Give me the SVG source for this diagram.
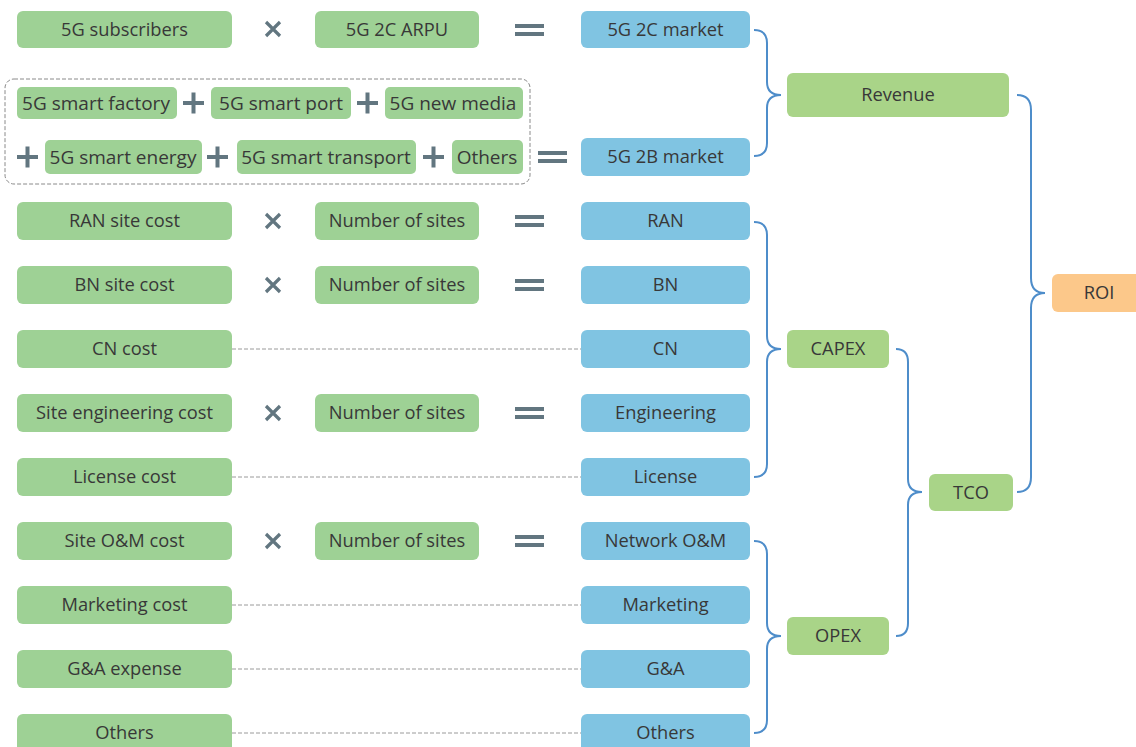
<svg xmlns="http://www.w3.org/2000/svg" width="1136" height="747" viewBox="0 0 1136 747">
<defs>
<style>
text{font-family:"Open Sans","Liberation Sans",sans-serif;font-size:18.3px;fill:#383838;text-anchor:middle}
.big{font-size:19px}
.g{fill:#9ed195}
.r{fill:#a9d488}
.b{fill:#80c4e2}
.o{fill:#fcc88a}
.op{fill:#627680}
.x{stroke:#627680;stroke-width:3.2;stroke-linecap:butt}
.dash{stroke:#9a9a9a;stroke-width:1;stroke-dasharray:4,2;fill:none}
.brace{stroke:#4e8dca;stroke-width:2;fill:none}
</style>
</defs>
<rect width="1136" height="747" fill="#ffffff"/>

<g id="dashed-group">
<rect x="5" y="79" width="525" height="105" rx="9" fill="none" stroke="#8a8a8a" stroke-width="1" stroke-dasharray="4,2"/>
</g>

<g id="connectors">
<line class="dash" x1="232" y1="349" x2="581" y2="349"/>
<line class="dash" x1="232" y1="477" x2="581" y2="477"/>
<line class="dash" x1="232" y1="605" x2="581" y2="605"/>
<line class="dash" x1="232" y1="669" x2="581" y2="669"/>
<line class="dash" x1="232" y1="733" x2="581" y2="733"/>
<path class="brace" d="M754,30 Q767,30 767,43 V82 Q767,95 781,95 Q767,95 767,108 V143 Q767,156 754,156"/>
<path class="brace" d="M754,222 Q767,222 767,235 V336 Q767,349 781,349 Q767,349 767,362 V464 Q767,477 754,477"/>
<path class="brace" d="M754,541 Q767,541 767,554 V623 Q767,636 781,636 Q767,636 767,649 V720 Q767,733 754,733"/>
<path class="brace" d="M896,349 Q908,349 908,362 V479 Q908,492 922,492 Q908,492 908,505 V623 Q908,636 896,636"/>
<path class="brace" d="M1017,95 Q1031,95 1031,110 V278 Q1031,293 1045,293 Q1031,293 1031,308 V477 Q1031,492 1017,492"/>
</g>

<g id="operators">
<path class="x" d="M266,22 L280,36 M280,22 L266,36"/>
<rect class="op" x="515" y="24" width="29" height="4"/><rect class="op" x="515" y="32" width="29" height="4"/>
<path class="x" d="M266,214 L280,228 M280,214 L266,228"/>
<rect class="op" x="515" y="215" width="29" height="4"/><rect class="op" x="515" y="223" width="29" height="4"/>
<path class="x" d="M266,278 L280,292 M280,278 L266,292"/>
<rect class="op" x="515" y="279" width="29" height="4"/><rect class="op" x="515" y="287" width="29" height="4"/>
<path class="x" d="M266,406 L280,420 M280,406 L266,420"/>
<rect class="op" x="515" y="407" width="29" height="4"/><rect class="op" x="515" y="415" width="29" height="4"/>
<path class="x" d="M266,534 L280,548 M280,534 L266,548"/>
<rect class="op" x="515" y="535" width="29" height="4"/><rect class="op" x="515" y="543" width="29" height="4"/>
<rect class="op" x="538" y="151" width="29" height="4"/><rect class="op" x="538" y="159" width="29" height="4"/>
<path class="op" d="M183,101 h21 v4 h-21z M191.5,92.5 h4 v21 h-4z"/>
<path class="op" d="M357,101 h21 v4 h-21z M365.5,92.5 h4 v21 h-4z"/>
<path class="op" d="M17,155 h21 v4 h-21z M25.5,146.5 h4 v21 h-4z"/>
<path class="op" d="M207,155 h21 v4 h-21z M215.5,146.5 h4 v21 h-4z"/>
<path class="op" d="M423,155 h21 v4 h-21z M431.5,146.5 h4 v21 h-4z"/>
</g>

<g id="n-5g-subscribers"><rect class="g" x="17" y="11" width="215" height="37" rx="6"/><text x="124.5" y="35.5">5G subscribers</text></g>
<g id="n-5g-2c-arpu"><rect class="g" x="315" y="11" width="164" height="37" rx="6"/><text x="397" y="35.5">5G 2C ARPU</text></g>
<g id="n-5g-2c-market"><rect class="b" x="581" y="11" width="169" height="37" rx="6"/><text x="665.5" y="35.5">5G 2C market</text></g>

<g id="n-smart-factory"><rect class="g" x="17" y="87" width="160" height="32" rx="5"/><text class="big" x="96" y="109.5">5G smart factory</text></g>
<g id="n-smart-port"><rect class="g" x="211" y="87" width="140" height="32" rx="5"/><text class="big" x="281" y="109.5">5G smart port</text></g>
<g id="n-new-media"><rect class="g" x="385" y="87" width="138" height="32" rx="5"/><text class="big" x="453" y="109.5">5G new media</text></g>
<g id="n-smart-energy"><rect class="g" x="45" y="140" width="157" height="34" rx="5"/><text class="big" x="123" y="163.5">5G smart energy</text></g>
<g id="n-smart-transport"><rect class="g" x="237" y="140" width="179" height="34" rx="5"/><text class="big" x="326" y="163.5">5G smart transport</text></g>
<g id="n-others-2b"><rect class="g" x="452" y="140" width="71" height="34" rx="5"/><text class="big" x="487" y="163.5">Others</text></g>
<g id="n-5g-2b-market"><rect class="b" x="581" y="138" width="169" height="38" rx="6"/><text x="665.5" y="163">5G 2B market</text></g>

<g id="n-ran-site-cost"><rect class="g" x="17" y="202" width="215" height="38" rx="6"/><text x="124.5" y="227">RAN site cost</text></g>
<g id="n-sites-ran"><rect class="g" x="315" y="202" width="164" height="38" rx="6"/><text x="397" y="227">Number of sites</text></g>
<g id="n-ran"><rect class="b" x="581" y="202" width="169" height="38" rx="6"/><text x="665.5" y="227">RAN</text></g>

<g id="n-bn-site-cost"><rect class="g" x="17" y="266" width="215" height="38" rx="6"/><text x="124.5" y="291">BN site cost</text></g>
<g id="n-sites-bn"><rect class="g" x="315" y="266" width="164" height="38" rx="6"/><text x="397" y="291">Number of sites</text></g>
<g id="n-bn"><rect class="b" x="581" y="266" width="169" height="38" rx="6"/><text x="665.5" y="291">BN</text></g>

<g id="n-cn-cost"><rect class="g" x="17" y="330" width="215" height="38" rx="6"/><text x="124.5" y="355">CN cost</text></g>
<g id="n-cn"><rect class="b" x="581" y="330" width="169" height="38" rx="6"/><text x="665.5" y="355">CN</text></g>

<g id="n-site-eng-cost"><rect class="g" x="17" y="394" width="215" height="38" rx="6"/><text x="124.5" y="419">Site engineering cost</text></g>
<g id="n-sites-eng"><rect class="g" x="315" y="394" width="164" height="38" rx="6"/><text x="397" y="419">Number of sites</text></g>
<g id="n-engineering"><rect class="b" x="581" y="394" width="169" height="38" rx="6"/><text x="665.5" y="419">Engineering</text></g>

<g id="n-license-cost"><rect class="g" x="17" y="458" width="215" height="38" rx="6"/><text x="124.5" y="483">License cost</text></g>
<g id="n-license"><rect class="b" x="581" y="458" width="169" height="38" rx="6"/><text x="665.5" y="483">License</text></g>

<g id="n-site-om-cost"><rect class="g" x="17" y="522" width="215" height="38" rx="6"/><text x="124.5" y="547">Site O&amp;M cost</text></g>
<g id="n-sites-om"><rect class="g" x="315" y="522" width="164" height="38" rx="6"/><text x="397" y="547">Number of sites</text></g>
<g id="n-network-om"><rect class="b" x="581" y="522" width="169" height="38" rx="6"/><text x="665.5" y="547">Network O&amp;M</text></g>

<g id="n-marketing-cost"><rect class="g" x="17" y="586" width="215" height="38" rx="6"/><text x="124.5" y="611">Marketing cost</text></g>
<g id="n-marketing"><rect class="b" x="581" y="586" width="169" height="38" rx="6"/><text x="665.5" y="611">Marketing</text></g>

<g id="n-ga-expense"><rect class="g" x="17" y="650" width="215" height="38" rx="6"/><text x="124.5" y="675">G&amp;A expense</text></g>
<g id="n-ga"><rect class="b" x="581" y="650" width="169" height="38" rx="6"/><text x="665.5" y="675">G&amp;A</text></g>

<g id="n-others-cost"><rect class="g" x="17" y="714" width="215" height="38" rx="6"/><text x="124.5" y="739">Others</text></g>
<g id="n-others-opex"><rect class="b" x="581" y="714" width="169" height="38" rx="6"/><text x="665.5" y="739">Others</text></g>

<g id="n-revenue"><rect class="r" x="787" y="73" width="222" height="44" rx="6"/><text x="898" y="101">Revenue</text></g>
<g id="n-capex"><rect class="r" x="787" y="330" width="102" height="38" rx="6"/><text x="838" y="355">CAPEX</text></g>
<g id="n-opex"><rect class="r" x="787" y="617" width="102" height="38" rx="6"/><text x="838" y="642">OPEX</text></g>
<g id="n-tco"><rect class="r" x="929" y="474" width="84" height="37" rx="6"/><text x="971" y="498.5">TCO</text></g>
<g id="n-roi"><rect class="o" x="1052" y="274" width="92" height="38" rx="6"/><text x="1099" y="299">ROI</text></g>
</svg>
